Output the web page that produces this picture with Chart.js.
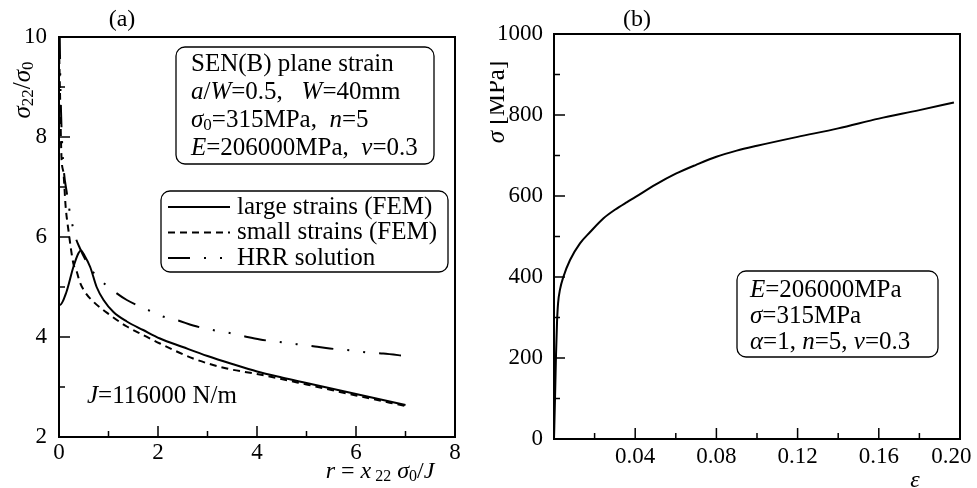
<!DOCTYPE html>
<html>
<head>
<meta charset="utf-8">
<script src="https://cdn.jsdelivr.net/npm/chart.js@4.4.1/dist/chart.umd.min.js"></script>
<style>
  body { margin: 0; background: #fff; }
  #wrap { position: relative; width: 977px; height: 488px; }
  canvas { position: absolute; top: 0; }
</style>
</head>
<body>
<div id="wrap">
  <canvas id="fig-a" width="490" height="488" style="left:0"></canvas>
  <canvas id="fig-b" width="487" height="488" style="left:490px"></canvas>
</div>
<script>
// (a) crack-tip opening stress vs normalized distance
const rLarge = [0, 0.02, 0.15, 0.29, 0.39, 0.44, 0.52, 0.63, 0.76, 0.9, 1.1, 1.37, 1.7, 2.04, 2.5, 3.0, 3.5, 4.0, 4.5, 5.0, 5.5, 6.0, 6.5, 7.0];
const sLarge = [4.65, 4.64, 4.9, 5.4, 5.67, 5.73, 5.62, 5.4, 5.0, 4.74, 4.5, 4.31, 4.14, 3.97, 3.8, 3.62, 3.46, 3.31, 3.19, 3.08, 2.97, 2.86, 2.75, 2.64];
const rSmall = [0.005, 0.02, 0.05, 0.09, 0.135, 0.19, 0.29, 0.36, 0.42, 0.525, 0.69, 1.03, 1.37, 1.7, 2.04, 2.71, 3.39, 4.0, 5.0, 6.0, 7.0];
const sSmall = [9.6, 8.9, 7.6, 7.28, 6.6, 6.14, 5.47, 5.3, 5.1, 4.9, 4.71, 4.44, 4.21, 4.04, 3.87, 3.57, 3.37, 3.26, 3.05, 2.83, 2.62];
const rHrr = [0.015, 0.03, 0.06, 0.1, 0.155, 0.2, 0.32, 0.42, 0.66, 0.86, 1.13, 1.37, 1.8, 2.07, 2.41, 2.71, 3.15, 3.45, 3.76, 4.06, 4.53, 5.17, 5.47, 5.91, 6.24, 6.55, 7.0];
const sHrr = [10.0, 8.95, 7.95, 7.3, 6.9, 6.6, 6.04, 5.78, 5.34, 5.12, 4.9, 4.74, 4.54, 4.42, 4.33, 4.23, 4.13, 4.08, 4.01, 3.95, 3.89, 3.81, 3.77, 3.73, 3.69, 3.67, 3.62];
const seriesNames = ['large strains (FEM)', 'small strains (FEM)', 'HRR solution'];
const aMajorX = [0, 2, 4, 6, 8], aMinorX = [1, 3, 5, 7];
const aMajorY = [2, 4, 6, 8, 10], aMinorY = [3, 5, 7, 9];

// (b) stress-strain curve
const epsVals = [0, 0.0005, 0.001, 0.0015, 0.002, 0.003, 0.0046, 0.0079, 0.0128, 0.0178, 0.0244, 0.03, 0.036, 0.04, 0.05, 0.06, 0.07, 0.08, 0.09, 0.10, 0.12, 0.14, 0.16, 0.18, 0.197];
const sigVals = [0, 100, 210, 290, 335, 370, 400, 442, 483, 511, 545, 566, 585, 597, 628, 655, 677, 697, 712, 724, 746, 767, 791, 812, 831];
const bMajorX = [0.04, 0.08, 0.12, 0.16, 0.20], bMinorX = [0.02, 0.06, 0.10, 0.14, 0.18];
const bMajorY = [0, 200, 400, 600, 800, 1000], bMinorY = [100, 300, 500, 700, 900];

const SERIF = '"Liberation Serif", "Times New Roman", serif';
Chart.defaults.font.family = SERIF;
Chart.defaults.color = '#000';

const pts = (xs, ys) => xs.map((x, i) => ({ x: x, y: ys[i] }));

// text with italic / subscript runs
function rich(ctx, x, y, runs, size) {
  let cx = x;
  runs.forEach(([t, st]) => {
    const sub = st.includes('s');
    const fs = sub ? Math.round(size * 0.68) : size;
    ctx.font = (st.includes('i') ? 'italic ' : '') + fs + 'px ' + SERIF;
    ctx.fillText(t, cx, sub ? y + size * 0.22 : y);
    cx += ctx.measureText(t).width;
  });
  return cx - x;
}
function richWidth(ctx, runs, size) {
  let w = 0;
  runs.forEach(([t, st]) => {
    const fs = st.includes('s') ? Math.round(size * 0.68) : size;
    ctx.font = (st.includes('i') ? 'italic ' : '') + fs + 'px ' + SERIF;
    w += ctx.measureText(t).width;
  });
  return w;
}
function roundBox(ctx, x, y, w, h, r) {
  ctx.beginPath();
  ctx.roundRect(x, y, w, h, r);
  ctx.stroke();
}

const frame = {
  id: 'frame',
  afterDraw(chart, args, o) {
    const { ctx, chartArea: a, scales: { x, y } } = chart;
    ctx.save();
    ctx.strokeStyle = '#000';
    ctx.fillStyle = '#000';
    ctx.lineWidth = 1.5;
    ctx.beginPath();
    o.majorX.forEach(v => { const p = x.getPixelForValue(v); ctx.moveTo(p, a.bottom); ctx.lineTo(p, a.bottom - 11); });
    o.minorX.forEach(v => { const p = x.getPixelForValue(v); ctx.moveTo(p, a.bottom); ctx.lineTo(p, a.bottom - 6); });
    o.majorY.forEach(v => { const p = y.getPixelForValue(v); ctx.moveTo(a.left, p); ctx.lineTo(a.left + 11, p); });
    o.minorY.forEach(v => { const p = y.getPixelForValue(v); ctx.moveTo(a.left, p); ctx.lineTo(a.left + 6, p); });
    ctx.stroke();
    ctx.lineWidth = 2;
    ctx.strokeRect(a.left, a.top, a.width, a.height);

    ctx.lineWidth = 1.3;
    ctx.textBaseline = 'middle';
    ctx.textAlign = 'left';
    (o.boxes || []).forEach(b => {
      roundBox(ctx, b.x, b.y, b.w, b.h, 9);
      b.lines.forEach((ln, i) => rich(ctx, b.tx, b.ty + i * b.dy, ln, 25));
    });

    // legend
    if (o.legend) {
      const L = o.legend;
      roundBox(ctx, L.x, L.y, L.w, L.h, 9);
      chart.data.datasets.forEach((ds, i) => {
        const yy = L.ty + i * L.dy;
        ctx.save();
        ctx.lineWidth = 2;
        ctx.setLineDash(ds.borderDash || []);
        ctx.beginPath();
        ctx.moveTo(L.x + 7, yy);
        ctx.lineTo(L.x + 69, yy);
        ctx.stroke();
        ctx.restore();
        ctx.font = '25px ' + SERIF;
        ctx.fillText(ds.label, L.x + 76, yy);
      });
    }

    (o.notes || []).forEach(n => {
      ctx.save();
      ctx.translate(n.x, n.y);
      if (n.rot) ctx.rotate(n.rot);
      const w = richWidth(ctx, n.runs, n.size);
      rich(ctx, n.center ? -w / 2 : 0, 0, n.runs, n.size);
      ctx.restore();
    });
    ctx.restore();
  }
};

const lineStyle = { borderColor: '#000', borderWidth: 2, pointRadius: 0, fill: false, tension: 0, cubicInterpolationMode: 'monotone' };

new Chart(document.getElementById('fig-a').getContext('2d'), {
  type: 'line',
  data: {
    datasets: [
      Object.assign({ label: seriesNames[0], data: pts(rLarge, sLarge) }, lineStyle),
      Object.assign({ label: seriesNames[1], data: pts(rSmall, sSmall), borderDash: [7, 5] }, lineStyle),
      Object.assign({ label: seriesNames[2], data: pts(rHrr, sHrr), borderDash: [22, 14, 2, 14, 2, 14] }, lineStyle)
    ]
  },
  options: {
    responsive: false,
    animation: false,
    layout: { padding: { top: 37, right: 35, left: 0, bottom: 0 } },
    plugins: {
      legend: { display: false },
      tooltip: { enabled: false },
      frame: {
        majorX: aMajorX, minorX: aMinorX, majorY: aMajorY, minorY: aMinorY,
        boxes: [{
          x: 176, y: 47, w: 258, h: 117, tx: 191, ty: 64, dy: 28,
          lines: [
            [['SEN(B) plane strain', '']],
            [['a', 'i'], ['/', ''], ['W', 'i'], ['=0.5,   ', ''], ['W', 'i'], ['=40mm', '']],
            [['σ', 'i'], ['0', 's'], ['=315MPa,  ', ''], ['n', 'i'], ['=5', '']],
            [['E', 'i'], ['=206000MPa,  ', ''], ['ν', 'i'], ['=0.3', '']]
          ]
        }],
        legend: { x: 161, y: 191, w: 287, h: 81, ty: 207, dy: 25.5 },
        notes: [
          { x: 122, y: 20, size: 24, center: true, runs: [['(a)', '']] },
          { x: 87, y: 396, size: 25, runs: [['J', 'i'], ['=116000 N/m', '']] },
          { x: 23, y: 90, size: 25, center: true, rot: -Math.PI / 2, runs: [['σ', 'i'], ['22', 's'], ['/', ''], ['σ', 'i'], ['0', 's']] },
          { x: 380, y: 472, size: 24, center: true, runs: [['r', 'i'], [' = ', ''], ['x', 'i'], [' 22', 's'], [' σ', 'i'], ['0', 's'], ['/', ''], ['J', 'i']] }
        ]
      }
    },
    scales: {
      x: {
        type: 'linear', min: 0, max: 8,
        grid: { display: false }, border: { display: false },
        ticks: { stepSize: 2, padding: -6, maxRotation: 0, autoSkip: false, font: { size: 23 } },
        afterFit: s => { s.height = 51; }
      },
      y: {
        type: 'linear', min: 2, max: 10,
        grid: { display: false }, border: { display: false },
        ticks: { stepSize: 2, padding: 4, font: { size: 23 } },
        afterFit: s => { s.width = 59; }
      }
    }
  },
  plugins: [frame]
});

new Chart(document.getElementById('fig-b').getContext('2d'), {
  type: 'line',
  data: {
    datasets: [
      Object.assign({ label: 'σ–ε', data: pts(epsVals, sigVals) }, lineStyle)
    ]
  },
  options: {
    responsive: false,
    animation: false,
    layout: { padding: { top: 34, right: 17, left: 0, bottom: 0 } },
    plugins: {
      legend: { display: false },
      tooltip: { enabled: false },
      frame: {
        majorX: bMajorX, minorX: bMinorX, majorY: bMajorY, minorY: bMinorY,
        boxes: [{
          x: 247, y: 271, w: 201, h: 86, tx: 260, ty: 290, dy: 26,
          lines: [
            [['E', 'i'], ['=206000MPa', '']],
            [['σ', 'i'], ['=315MPa', '']],
            [['α', 'i'], ['=1, ', ''], ['n', 'i'], ['=5, ', ''], ['ν', 'i'], ['=0.3', '']]
          ]
        }],
        notes: [
          { x: 147, y: 20, size: 24, center: true, runs: [['(b)', '']] },
          { x: 7, y: 102, size: 25, center: true, rot: -Math.PI / 2, runs: [['σ', 'i'], [' [MPa]', '']] },
          { x: 425, y: 481, size: 24, center: true, runs: [['ε', 'i']] }
        ]
      }
    },
    scales: {
      x: {
        type: 'linear', min: 0, max: 0.2,
        grid: { display: false }, border: { display: false },
        ticks: {
          stepSize: 0.04, padding: -4, maxRotation: 0, autoSkip: false, font: { size: 23 },
          // last label sits a little left of its tick, as in the figure
          callback: v => (v < 1e-9 ? '' : v > 0.199 ? v.toFixed(2) + '   ' : v.toFixed(2))
        },
        afterFit: s => { s.height = 49; s.paddingRight = 0; s.paddingLeft = 0; }
      },
      y: {
        type: 'linear', min: 0, max: 1000,
        grid: { display: false }, border: { display: false },
        ticks: { stepSize: 200, padding: 3, font: { size: 23 }, callback: v => String(v) },
        afterFit: s => { s.width = 64; }
      }
    }
  },
  plugins: [frame]
});
</script>
</body>
</html>
